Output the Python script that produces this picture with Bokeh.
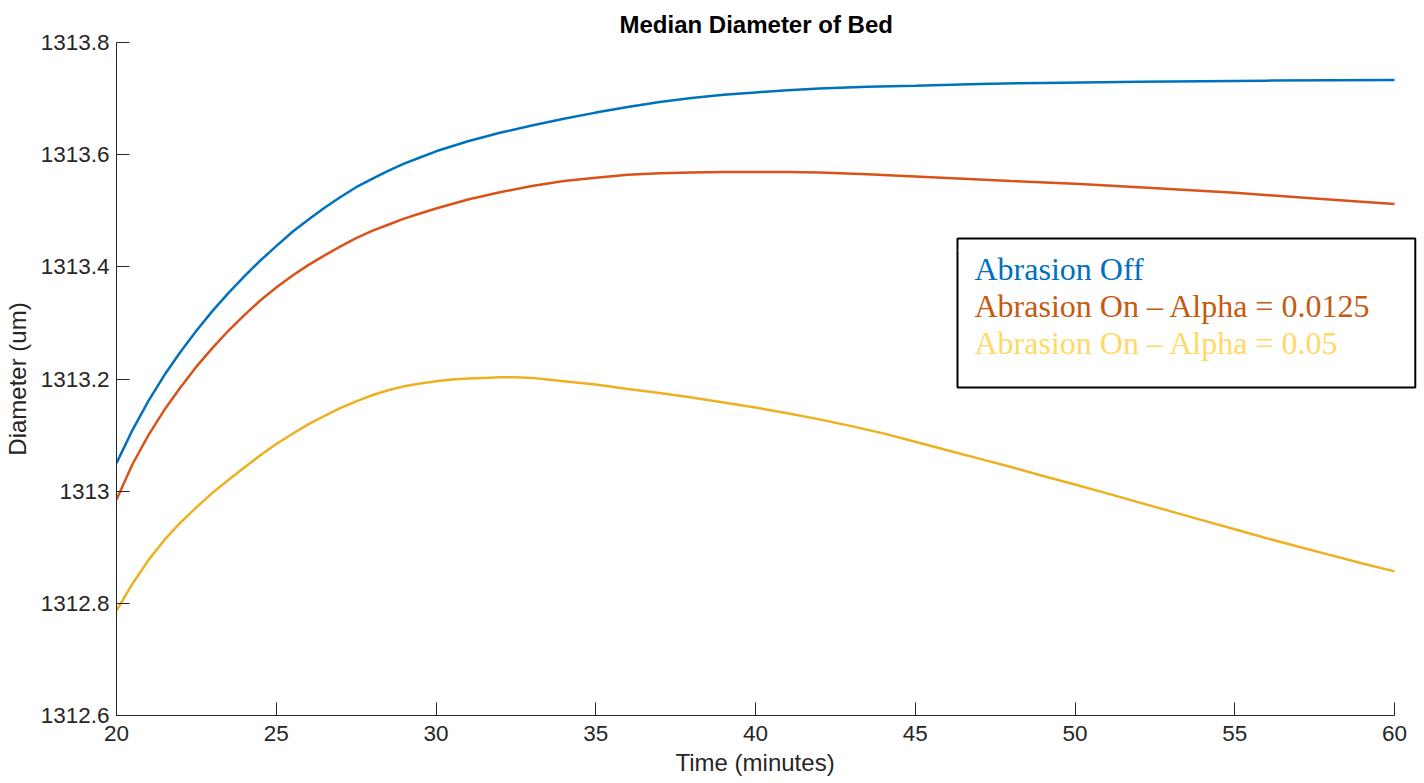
from bokeh.plotting import figure
from bokeh.models import FixedTicker, CustomJSTickFormatter, Label, Range1d, Title
from bokeh.embed import file_html
from bokeh.resources import INLINE

# Time (minutes) and median bed diameter (um) for each run
time_off = [20, 20.5, 21, 21.5, 22, 22.5, 23, 23.5, 24, 24.5, 25, 25.5, 26, 26.5, 27, 27.5,
            28, 28.5, 29, 29.5, 30, 30.5, 31, 32, 33, 34, 35, 36, 37, 38, 39, 40, 41, 42,
            43.5, 45, 47, 49, 52, 56, 60]
diam_off = [1313.050, 1313.109, 1313.161, 1313.207, 1313.248, 1313.286, 1313.321, 1313.353,
            1313.383, 1313.411, 1313.437, 1313.462, 1313.484, 1313.505, 1313.524, 1313.542,
            1313.557, 1313.571, 1313.584, 1313.595, 1313.606, 1313.615, 1313.624, 1313.639,
            1313.652, 1313.664, 1313.675, 1313.685, 1313.694, 1313.701, 1313.707, 1313.711,
            1313.715, 1313.718, 1313.721, 1313.723, 1313.726, 1313.728, 1313.730, 1313.732,
            1313.733]

time_a0125 = [20, 20.5, 21, 21.5, 22, 22.5, 23, 23.5, 24, 24.5, 25, 25.5, 26, 26.5, 27, 27.5,
              28, 28.5, 29, 29.5, 30, 30.5, 31, 32, 33, 34, 35, 36, 37, 38, 39, 40, 41, 42,
              43.5, 45, 46.5, 48, 50, 52, 55, 57.5, 60]
diam_a0125 = [1312.985, 1313.048, 1313.100, 1313.145, 1313.185, 1313.222, 1313.255, 1313.286,
              1313.314, 1313.340, 1313.363, 1313.384, 1313.403, 1313.420, 1313.436, 1313.451,
              1313.464, 1313.475, 1313.486, 1313.495, 1313.504, 1313.512, 1313.520, 1313.533,
              1313.544, 1313.553, 1313.559, 1313.564, 1313.567, 1313.568, 1313.569, 1313.569,
              1313.569, 1313.568, 1313.565, 1313.561, 1313.557, 1313.553, 1313.548, 1313.542,
              1313.532, 1313.522, 1313.512]

time_a05 = [20, 20.5, 21, 21.5, 22, 22.5, 23, 23.5, 24, 24.5, 25, 25.5, 26, 26.5, 27, 27.5,
            28, 28.5, 29, 29.5, 30, 30.5, 31, 31.5, 32, 32.5, 33, 33.5, 34, 35, 36, 37, 38,
            39, 40, 41, 42, 43, 44, 45, 46, 47, 48, 49, 50, 51, 52, 53, 54, 55, 56, 57, 58,
            59, 60]
diam_a05 = [1312.787, 1312.835, 1312.877, 1312.913, 1312.944, 1312.971, 1312.997, 1313.020,
            1313.042, 1313.064, 1313.084, 1313.102, 1313.119, 1313.134, 1313.148, 1313.160,
            1313.171, 1313.180, 1313.187, 1313.192, 1313.196, 1313.199, 1313.201, 1313.202,
            1313.203, 1313.203, 1313.202, 1313.199, 1313.196, 1313.190, 1313.182, 1313.175,
            1313.167, 1313.158, 1313.149, 1313.139, 1313.128, 1313.116, 1313.103, 1313.088,
            1313.073, 1313.058, 1313.043, 1313.027, 1313.012, 1312.996, 1312.980, 1312.964,
            1312.948, 1312.932, 1312.916, 1312.901, 1312.886, 1312.871, 1312.857]

series_labels = ["Abrasion Off", "Abrasion On \u2013 Alpha = 0.0125", "Abrasion On \u2013 Alpha = 0.05"]
line_colors = ["#0072BD", "#D95319", "#EDB120"]
label_colors = ["#0070C0", "#C55A11", "#FFD966"]

x_ticks = [20, 25, 30, 35, 40, 45, 50, 55, 60]
y_ticks = [1312.6, 1312.8, 1313.0, 1313.2, 1313.4, 1313.6, 1313.8]

# The frame runs a little past t=60 so the legend box can overhang the data area;
# the x axis itself is bounded to 20..60.
x_end = 20 + 40 * 1304 / 1279

p = figure(width=1424, height=783, output_backend="svg", toolbar_location=None,
           x_range=Range1d(20, x_end), y_range=Range1d(1312.6, 1313.8),
           min_border_left=115, min_border_right=5, min_border_top=42, min_border_bottom=68)
p.background_fill_color = "white"
p.border_fill_color = "white"
p.outline_line_color = None
p.grid.visible = False

# Titles are left-aligned with an offset so they centre over the 20..60 span
p.title = Title(text="Median Diameter of Bed", align="left", offset=503,
                text_font="Liberation Sans", text_font_size="24px",
                text_font_style="bold", text_color="black")

for ax in (p.xaxis[0], p.yaxis[0]):
    ax.axis_line_color = "#262626"
    ax.axis_line_width = 1
    ax.major_tick_line_color = "#262626"
    ax.major_tick_in = 13
    ax.major_tick_out = 0
    ax.minor_tick_line_color = None
    ax.major_label_text_font = "Liberation Sans"
    ax.major_label_text_font_size = "22.5px"
    ax.major_label_text_color = "#262626"
    ax.axis_label_text_font = "Liberation Sans"
    ax.axis_label_text_font_size = "24px"
    ax.axis_label_text_font_style = "normal"
    ax.axis_label_text_color = "#262626"

p.xaxis.ticker = FixedTicker(ticks=x_ticks)
p.xaxis.bounds = (20, 60)
p.yaxis.ticker = FixedTicker(ticks=y_ticks)
p.yaxis.formatter = CustomJSTickFormatter(code="return tick.toFixed(1).replace(/\\.0$/, '');")
p.yaxis.axis_label = "Diameter (um)"
p.xaxis.major_label_standoff = 10
p.yaxis.major_label_standoff = 7
p.yaxis.axis_label_standoff = 7

x_title = Title(text="Time (minutes)", align="left", offset=559, standoff=6,
                text_font="Liberation Sans", text_font_size="24px",
                text_font_style="normal", text_color="#262626")
p.add_layout(x_title, "below")

for xs, ys, c in ((time_off, diam_off, line_colors[0]),
                  (time_a0125, diam_a0125, line_colors[1]),
                  (time_a05, diam_a05, line_colors[2])):
    p.line(xs, ys, line_color=c, line_width=2.5)

# Legend frame: a padded label box drawn behind the coloured entries
frame_box = Label(x=841, y=328, x_units="screen", y_units="screen", text=".",
                  text_color="white", text_font_size="10px", anchor="bottom_left",
                  padding=dict(left=0, right=455, top=4, bottom=137),
                  border_line_color="black", border_line_width=2,
                  background_fill_color="white", background_fill_alpha=1.0)
p.add_layout(frame_box)
for i, (txt, col) in enumerate(zip(series_labels, label_colors)):
    p.add_layout(Label(x=858, y=447 - 37 * i, x_units="screen", y_units="screen",
                       text=txt, text_color=col, text_font="Liberation Serif",
                       text_font_size="32px", text_baseline="alphabetic"))

open("out.html", "w").write(file_html(p, INLINE))
